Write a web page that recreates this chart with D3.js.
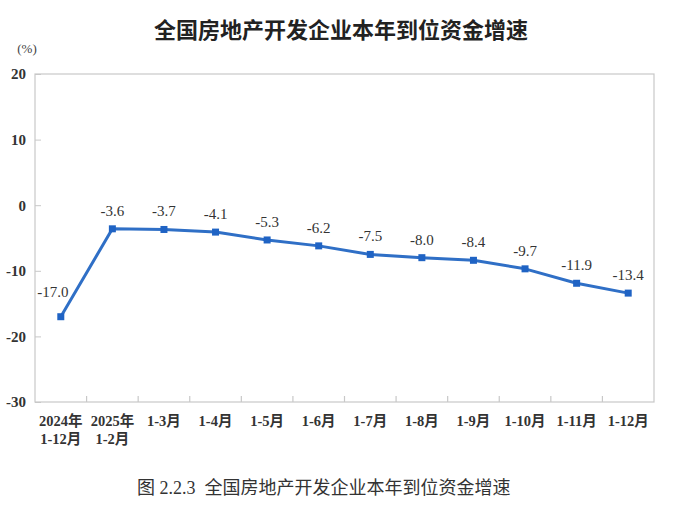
<!DOCTYPE html>
<html><head><meta charset="utf-8">
<script src="https://cdn.jsdelivr.net/npm/d3@7"></script>
<style>body{margin:0;background:#fff}</style></head>
<body><svg id="c" width="676" height="513"></svg>
<script>
const categories = [["2024年","1-12月"],["2025年","1-2月"],["1-3月"],["1-4月"],["1-5月"],["1-6月"],["1-7月"],["1-8月"],["1-9月"],["1-10月"],["1-11月"],["1-12月"]];
const values = [-17.0,-3.6,-3.7,-4.1,-5.3,-6.2,-7.5,-8.0,-8.4,-9.7,-11.9,-13.4];
const yTicks = [20,10,0,-10,-20,-30];
const title = "全国房地产开发企业本年到位资金增速";
const caption = "图 2.2.3  全国房地产开发企业本年到位资金增速";
const unit = "(%)";

const svg = d3.select("#c");
const L=35,R=654,T=74,B=402;
const serif = "Liberation Serif, DejaVu Serif, Noto Sans CJK SC, serif";
const x = d3.scaleBand().domain(d3.range(values.length)).range([L,R]);
const y = d3.scaleLinear().domain([-30,20]).range([B,T]);

svg.append("text").attr("x",341).attr("y",38).attr("text-anchor","middle")
  .style("font-family","Noto Sans CJK SC, sans-serif").style("font-weight","bold")
  .style("font-size","22px").attr("fill","#222").text(title);
svg.append("text").attr("x",27).attr("y",53).attr("text-anchor","middle")
  .style("font-family",serif).style("font-size","13px").attr("fill","#444").text(unit);

svg.append("rect").attr("x",L).attr("y",T).attr("width",R-L).attr("height",B-T)
  .attr("fill","none").attr("stroke","#c8c8c8").attr("stroke-width",1.2);

const ya = svg.append("g").attr("transform",`translate(${L},0)`)
  .call(d3.axisLeft(y).tickValues(yTicks).tickSize(-6).tickPadding(9).tickFormat(d=>String(d)));
ya.select(".domain").remove();
ya.selectAll("line").attr("stroke","#c8c8c8");
ya.selectAll("text").style("font-family",serif).style("font-weight","bold").style("font-size","15px").attr("fill","#333");

svg.append("g").selectAll("line").data(d3.range(1,values.length)).join("line")
  .attr("x1",i=>x(i)).attr("x2",i=>x(i)).attr("y1",B).attr("y2",B-6)
  .attr("stroke","#c8c8c8").attr("stroke-width",1.2);

const xl = svg.append("g").selectAll("text").data(categories).join("text")
  .attr("x",(d,i)=>x(i)+x.bandwidth()/2).attr("y",426).attr("text-anchor","middle")
  .style("font-family",serif).style("font-weight","bold").style("font-size","14.5px").attr("fill","#333");
xl.each(function(d){
  const t=d3.select(this);
  d.forEach((s,k)=>t.append("tspan").attr("x",t.attr("x")).attr("dy",k?18:0).text(s));
});

const line = d3.line().x((d,i)=>x(i)+x.bandwidth()/2).y(d=>y(d));
svg.append("path").datum(values).attr("d",line).attr("fill","none")
  .attr("stroke","#2f6fc6").attr("stroke-width",3).attr("stroke-linejoin","round");
svg.append("g").selectAll("rect").data(values).join("rect")
  .attr("x",(d,i)=>x(i)+x.bandwidth()/2-3.5).attr("y",d=>y(d)-3.5)
  .attr("width",7).attr("height",7).attr("fill","#1f63c4");

svg.append("g").selectAll("text").data(values).join("text")
  .attr("x",(d,i)=>i===0? x(i)+x.bandwidth()/2-8 : x(i)+x.bandwidth()/2)
  .attr("y",(d,i)=>i===0? y(d)-20 : y(d)-13)
  .attr("text-anchor","middle").style("font-family",serif).style("font-size","15px").attr("fill","#333")
  .text(d=>d.toFixed(1));

svg.append("text").attr("x",137).attr("y",494).style("font-family",serif)
  .style("font-size","18px").attr("fill","#333").style("white-space","pre").text(caption);
</script></body></html>
